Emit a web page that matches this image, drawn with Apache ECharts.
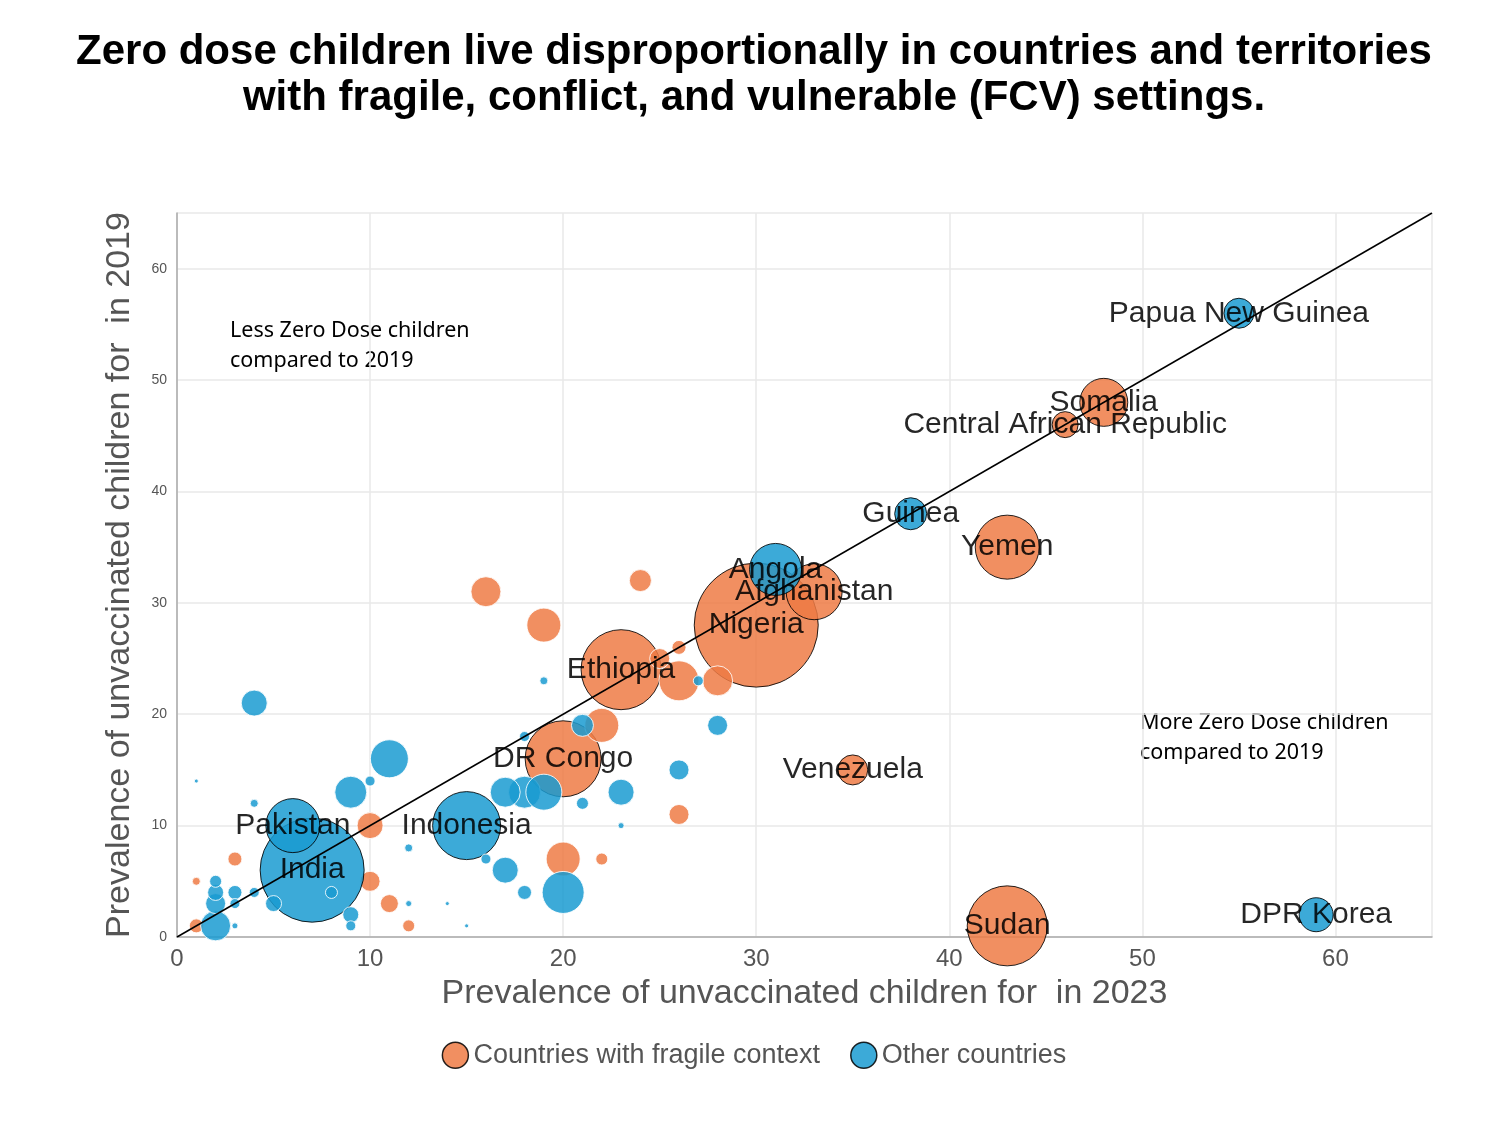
<!DOCTYPE html>
<html><head><meta charset="utf-8">
<script src="https://cdn.jsdelivr.net/npm/echarts@6/dist/echarts.min.js"></script>
<style>html,body{margin:0;padding:0;background:#fff}#c{width:1508px;height:1136px}</style>
</head><body><div id="c"></div>
<script>
// [x 2023, y 2019, bubble size (relative zero-dose count), name]
const fragile = [
 [30,28,124,'Nigeria'],[23,24,80,'Ethiopia'],[20,16,76,'DR Congo'],[33,31,56,'Afghanistan'],
 [43,35,64,'Yemen'],[43,1,80,'Sudan'],[48,48,48,'Somalia'],[46,46,26,'Central African Republic'],
 [35,15,30,'Venezuela'],
 [16,31,30,''],[19,28,34,''],[24,32,22,''],[26,23,40,''],[28,23,30,''],[26,26,14,''],[25,25,20,''],
 [22,19,34,''],[26,11,20,''],[20,7,34,''],[22,7,12,''],[10,10,26,''],[10,5,20,''],[11,3,18,''],
 [12,1,12,''],[3,7,14,''],[1,5,8,''],[1,1,14,'']
];
const other = [
 [7,6,104,'India'],[6,10,54,'Pakistan'],[15,10,68,'Indonesia'],[31,33,52,'Angola'],[38,38,32,'Guinea'],
 [55,56,30,'Papua New Guinea'],[59,2,34,'DPR Korea'],
 [4,21,26,''],[11,16,38,''],[9,13,32,''],[18,13,32,''],[17,13,30,''],[19,13,36,''],[21,19,22,''],
 [23,13,26,''],[26,15,20,''],[28,19,20,''],[17,6,26,''],[20,4,42,''],[18,4,14,''],[21,12,12,''],
 [18,18,10,''],[9,2,16,''],[2,1,30,''],[2,3,20,''],[2,4,16,''],[3,4,14,''],[9,1,10,''],[16,7,10,''],
 [4,12,8,''],[10,14,10,''],[19,23,8,''],[27,23,10,''],[12,8,8,''],[23,10,6,''],[1,14,4,''],[8,4,12,''],
 [12,3,6,''],[15,1,4,''],[14,3,4,''],[3,1,6,''],[5,3,16,''],[4,4,10,''],[2,5,12,''],[3,3,10,'']
];
const xTicks=[0,10,20,30,40,50,60];
const chart=echarts.init(document.getElementById('c'));
function styled(data){return data.map(d=>({value:d,itemStyle:d[3]?{borderColor:'#000',borderWidth:1}:{borderColor:'#fff',borderWidth:1}}));}
function ser(name,data,color){
 return {name,type:'scatter',data:styled(data),symbolSize:v=>v[2],
  itemStyle:{color,opacity:0.85},
  emphasis:{disabled:true},
  label:{show:true,position:'inside',formatter:p=>p.value[3]||'',color:'#000',fontSize:30,fontFamily:'Liberation Sans, Arial'},
  labelLayout:{hideOverlap:false},
  z:2};
}
const s1=ser('Countries with fragile context',fragile,'#ef7b45');
const s2=ser('Other countries',other,'#1a9bd1');
chart.setOption({
 animation:false,
 title:{text:'Zero dose children live disproportionally in countries and territories\nwith fragile, conflict, and vulnerable (FCV) settings.',left:'center',top:24,
  textStyle:{fontSize:42,fontWeight:'bold',color:'#000',fontFamily:'Liberation Sans, Arial',lineHeight:46}},
 legend:{bottom:62,left:'center',itemWidth:26,itemHeight:26,itemGap:30,
  textStyle:{fontSize:27,color:'#555',fontFamily:'Liberation Sans, Arial'},
  data:[{name:'Countries with fragile context',icon:'circle',itemStyle:{borderColor:'#000',borderWidth:1.5}},
        {name:'Other countries',icon:'circle',itemStyle:{borderColor:'#000',borderWidth:1.5}}]},
 grid:{left:177,right:76,top:213,bottom:199},
 xAxis:{type:'value',min:0,max:65,interval:10,name:'Prevalence of unvaccinated children for  in 2023',nameLocation:'middle',nameGap:40,
  nameTextStyle:{fontSize:34,color:'#555',fontFamily:'Liberation Sans, Arial'},
  axisLine:{show:true,lineStyle:{color:'#aaa',width:1.5}},axisTick:{show:false},
  axisLabel:{fontSize:24,color:'#555',margin:10,formatter:v=>xTicks.includes(v)?v:''},
  splitLine:{lineStyle:{color:'#e8e8e8',width:1.5}}},
 yAxis:{type:'value',min:0,max:65,interval:10,name:'Prevalence of unvaccinated children for  in 2019',nameLocation:'middle',nameGap:40,
  nameTextStyle:{fontSize:34,color:'#555',fontFamily:'Liberation Sans, Arial'},
  axisLine:{show:true,lineStyle:{color:'#aaa',width:1.5}},axisTick:{show:false},
  axisLabel:{fontSize:14,color:'#555',margin:10,formatter:v=>v>60?'':v},
  splitLine:{lineStyle:{color:'#e8e8e8',width:1.5}}},
 graphic:[
  {type:'text',left:230,top:316,style:{text:'Less Zero Dose children\ncompared to 2019',fontSize:21.5,lineHeight:30,fill:'#000',fontFamily:'Noto Sans'}},
  {type:'text',left:1140,top:708,style:{text:'More Zero Dose children\ncompared to 2019',fontSize:21.5,lineHeight:30,fill:'#000',fontFamily:'Noto Sans'}}
 ],
 series:[
  {type:'line',data:[[0,0],[65,65]],symbol:'none',lineStyle:{color:'#000',width:1.5},z:3,silent:true,legendHoverLink:false},
  s1,s2
 ]
});
</script></body></html>
